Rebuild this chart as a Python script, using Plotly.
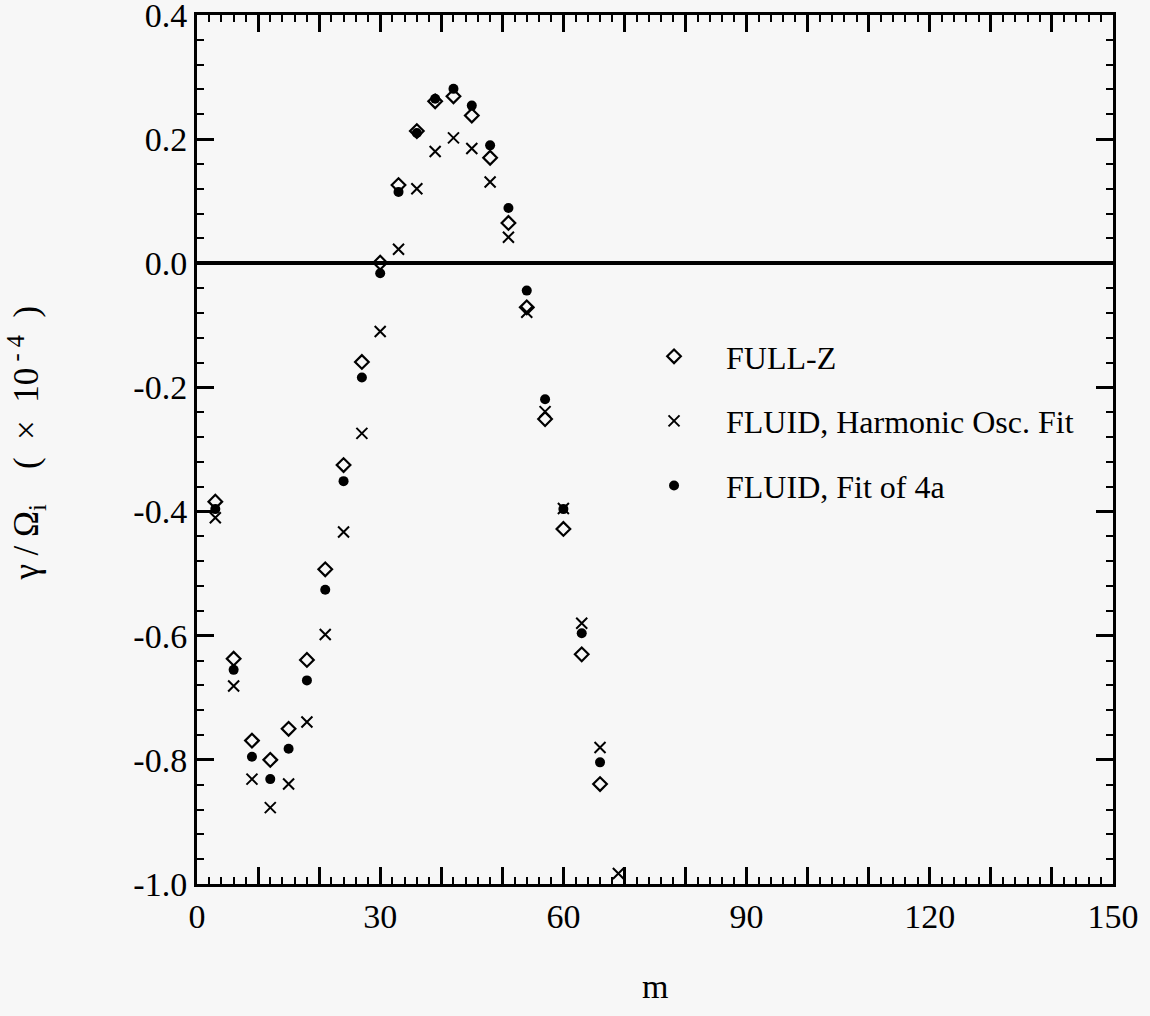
import plotly.graph_objects as go

# ---- data ----
m_full = [3, 6, 9, 12, 15, 18, 21, 24, 27, 30, 33, 36, 39, 42, 45, 48, 51, 54, 57, 60, 63, 66]
full_z = [-0.384, -0.637, -0.769, -0.800, -0.750, -0.639, -0.493, -0.325, -0.159, 0.001,
          0.126, 0.213, 0.261, 0.269, 0.238, 0.170, 0.065, -0.071, -0.251, -0.428, -0.630, -0.839]

m_harm = [3, 6, 9, 12, 15, 18, 21, 24, 27, 30, 33, 36, 39, 42, 45, 48, 51, 54, 57, 60, 63, 66, 69]
fluid_harm = [-0.410, -0.681, -0.831, -0.877, -0.839, -0.739, -0.598, -0.433, -0.274, -0.110,
              0.0225, 0.120, 0.180, 0.202, 0.185, 0.131, 0.042, -0.079, -0.239, -0.395, -0.580,
              -0.780, -0.983]

m_fit = [3, 6, 9, 12, 15, 18, 21, 24, 27, 30, 33, 36, 39, 42, 45, 48, 51, 54, 57, 60, 63, 66]
fluid_fit4a = [-0.396, -0.655, -0.795, -0.831, -0.782, -0.672, -0.526, -0.351, -0.184, -0.016,
               0.115, 0.210, 0.265, 0.281, 0.254, 0.190, 0.089, -0.044, -0.219, -0.396, -0.596,
               -0.804]

x_tick_vals = [0, 10, 20, 30, 40, 50, 60, 70, 80, 90, 100, 110, 120, 130, 140, 150]
x_tick_text = ["0", "", "", "30", "", "", "60", "", "", "90", "", "", "120", "", "", "150"]
y_tick_vals = [-1.0, -0.8, -0.6, -0.4, -0.2, 0.0, 0.2, 0.4]
y_tick_text = ["-1.0", "-0.8", "-0.6", "-0.4", "-0.2", "0.0", "0.2", "0.4"]

names = ["FULL-Z", "FLUID, Harmonic Osc. Fit", "FLUID, Fit of 4a"]

FONT = "Liberation Serif, Times New Roman, serif"
BG = "#f7f7f7"

fig = go.Figure()
fig.add_trace(go.Scatter(
    x=m_full, y=full_z, mode="markers", name=names[0], legendgroup="a",
    marker=dict(symbol="diamond-open", size=10.5, color="black", line=dict(width=2.2, color="black")),
))
fig.add_trace(go.Scatter(
    x=m_harm, y=fluid_harm, mode="markers", name=names[1], legendgroup="b",
    marker=dict(symbol="x-thin-open", size=11, color="black", line=dict(width=2, color="black")),
))
fig.add_trace(go.Scatter(
    x=m_fit, y=fluid_fit4a, mode="markers", name=names[2], legendgroup="c",
    marker=dict(symbol="circle", size=10, color="black", line=dict(width=0)),
))

axis_common = dict(
    showline=True, linecolor="black", linewidth=3, mirror="allticks",
    ticks="inside", ticklen=17, tickwidth=2.5, tickcolor="black",
    showgrid=False, ticklabeloverflow="allow", automargin=False,
    tickfont=dict(family=FONT, size=34, color="black"),
)

fig.update_xaxes(
    range=[0, 150], tickmode="array", tickvals=x_tick_vals, ticktext=x_tick_text,
    minor=dict(ticks="inside", ticklen=7, tickwidth=2, tickcolor="black", dtick=2, tick0=0, showgrid=False),
    zeroline=False, ticklabelstandoff=0,
    **axis_common,
)
fig.update_yaxes(
    range=[-1.0, 0.4], tickmode="array", tickvals=y_tick_vals, ticktext=y_tick_text,
    minor=dict(ticks="inside", ticklen=7, tickwidth=2, tickcolor="black", dtick=0.04, tick0=0, showgrid=False),
    zeroline=True, zerolinecolor="black", zerolinewidth=3.5, ticklabelstandoff=0,
    **axis_common,
)

NB = "\u00a0"
fig.add_annotation(
    text=("γ" + NB + "/" + NB + "Ω<sub>i</sub>" + NB * 4 + "(" + NB * 2 + "×" + NB * 2
          + "10<sup>" + NB + "-" + NB + "4</sup>" + NB * 2 + ")"),
    xref="paper", yref="paper", x=-0.186, y=0.5075, xanchor="center", yanchor="middle",
    textangle=-90, showarrow=False, font=dict(family=FONT, size=35, color="black"),
)
fig.add_annotation(
    text="m", xref="paper", yref="paper", x=0.5, y=-0.118, xanchor="center", yanchor="middle",
    showarrow=False, font=dict(family=FONT, size=34, color="black"),
)

fig.update_layout(
    width=1150, height=1016,
    margin=dict(l=197, r=37, t=15, b=132, autoexpand=False),
    paper_bgcolor=BG, plot_bgcolor=BG,
    showlegend=True,
    legend=dict(
        x=0.464, y=0.6387, xanchor="left", yanchor="top",
        bgcolor="rgba(0,0,0,0)", borderwidth=0,
        font=dict(family=FONT, size=32, color="black"),
        tracegroupgap=20, itemwidth=94,
    ),
    font=dict(family=FONT, color="black"),
)

# remove the default 8px page margin so the 1150x1016 figure fills the window exactly
fig.write_html(
    "out.html",
    config={"displayModeBar": False},
    post_script="document.body.style.margin='0';document.body.style.overflow='hidden';",
)
